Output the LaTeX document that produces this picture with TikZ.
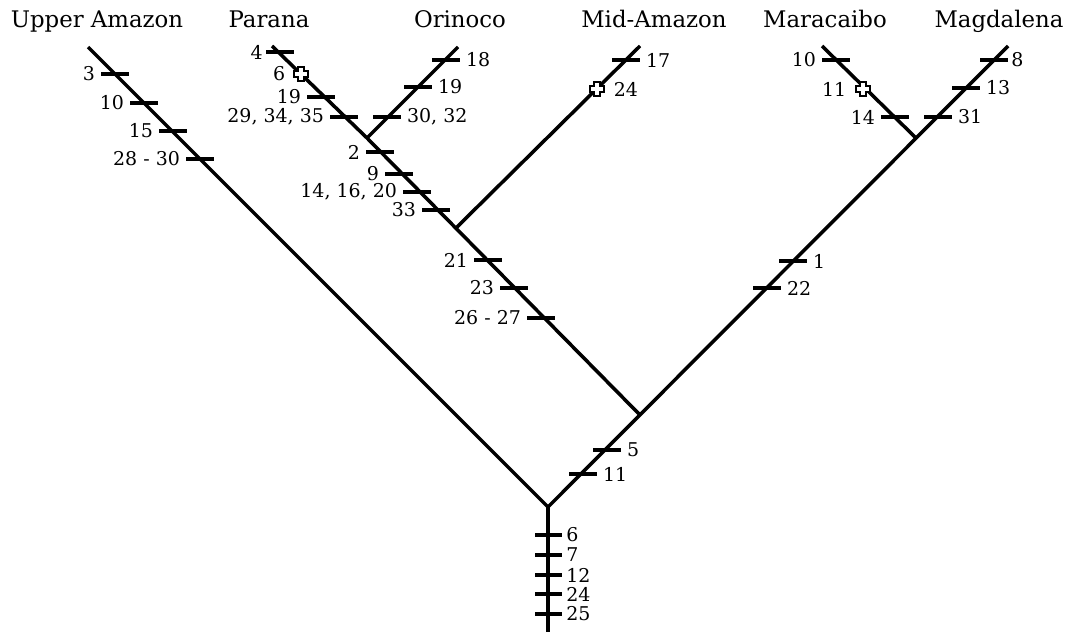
\documentclass[tikz,border=0pt]{standalone}
\usepackage{fontspec}
\setmainfont{DejaVu Serif}

\begin{document}
\begin{tikzpicture}[x=0.02cm, y=-0.02cm,
		branch/.style={line width=2pt},
		trait/.style={line width=1.9pt},
		river/.style={font=\fontsize{13}{15}\selectfont, anchor=base, inner sep=0pt},
		num/.style={font=\fontsize{10.8}{12}\selectfont, inner sep=2.5pt},
		plusmark/.pic={\draw[fill=white, line width=1.3pt] (-2.8,-7) -- (2.8,-7) -- (2.8,-2.8) -- (7,-2.8) -- (7,2.8) -- (2.8,2.8) -- (2.8,7) -- (-2.8,7) -- (-2.8,2.8) -- (-7,2.8) -- (-7,-2.8) -- (-2.8,-2.8) -- cycle;}]

			\useasboundingbox (0,0) rectangle (1071,632);

			% river names
			\node[river] (uaname) at (97,28) {Upper Amazon};
			\node[river] (paname) at (269,28) {Parana};
			\node[river] (orname) at (460,28) {Orinoco};
			\node[river] (maname) at (654,28) {Mid-Amazon};
			\node[river] (mcname) at (825,28) {Maracaibo};
			\node[river] (mgname) at (999,28) {Magdalena};

			% tree
			\coordinate (root) at (548,507);
			\coordinate (base) at (548,632);
			\coordinate (ua) at (88,47);
			\coordinate (mg) at (1008,46);
			\coordinate (n1) at (640,415);
			\coordinate (pa) at (272,46);
			\coordinate (n3) at (367,138);
			\coordinate (or) at (458,47);
			\coordinate (n2) at (456,228);
			\coordinate (ma) at (640,46);
			\coordinate (n4) at (916,138);
			\coordinate (mc) at (822,46);

			\draw[branch] (ua) -- (root) -- (mg);
			\draw[branch] (root) -- (base);
			\draw[branch] (pa) -- (n3) -- (n1);
			\draw[branch] (n3) -- (or);
			\draw[branch] (n2) -- (ma);
			\draw[branch] (mc) -- (n4);

			% Upper Amazon
				\draw[trait] (101,74) node[num, left] (ua3) {3} -- (129,74);
				\draw[trait] (130,103) node[num, left] (ua10) {10} -- (158,103);
				\draw[trait] (159,131) node[num, left] (ua15) {15} -- (187,131);
				\draw[trait] (186,159) node[num, left] (ua28) {28 - 30} -- (214,159);

			% Parana
				\draw[trait] (266,52) node[num, left, inner sep=1pt] (pa4) {4} -- (294,52);
				\path (301,74) pic {plusmark};
				\node[num, left] (pa6) at (290,74) {6};
				\draw[trait] (307,97) node[num, left] (pa19) {19} -- (335,97);
				\draw[trait] (330,117) node[num, left] (pa29) {29, 34, 35} -- (358,117);

			% Orinoco
				\draw[trait] (432,60) -- (460,60) node[num, right] (or18) {18};
				\draw[trait] (404,87) -- (432,87) node[num, right] (or19) {19};
				\draw[trait] (373,117) -- (401,117) node[num, right] (or30) {30, 32};

			% Parana + Orinoco, then with Mid-Amazon
				\draw[trait] (366,152) node[num, left] (po2) {2} -- (394,152);
				\draw[trait] (385,174) node[num, left] (po9) {9} -- (413,174);
				\draw[trait] (403,192) node[num, left] (po14) {14, 16, 20} -- (431,192);
				\draw[trait] (422,210) node[num, left] (po33) {33} -- (450,210);
				\draw[trait] (474,260) node[num, left] (pm21) {21} -- (502,260);
				\draw[trait] (500,288) node[num, left] (pm23) {23} -- (528,288);
				\draw[trait] (527,318) node[num, left] (pm26) {26 - 27} -- (555,318);

			% Mid-Amazon
				\draw[trait] (612,60) -- (640,60) node[num, right] (ma17) {17};
				\path (597,89) pic {plusmark};
				\node[num, right] (ma24) at (609,89) {24};

			% Maracaibo
				\draw[trait] (822,60) node[num, left] (mc10) {10} -- (850,60);
				\path (863,89) pic {plusmark};
				\node[num, left] (mc11) at (851,89) {11};
				\draw[trait] (881,117) node[num, left] (mc14) {14} -- (909,117);

			% Magdalena
				\draw[trait] (980,60) -- (1008,60) node[num, right, inner sep=1pt] (mg8) {8};
				\draw[trait] (952,88) -- (980,88) node[num, right] (mg13) {13};
				\draw[trait] (924,117) -- (952,117) node[num, right] (mg31) {31};

			% Maracaibo + Magdalena
				\draw[trait] (779,261) -- (807,261) node[num, right] (mm1) {1};
				\draw[trait] (753,288) -- (781,288) node[num, right] (mm22) {22};

			% all but Upper Amazon
				\draw[trait] (593,450) -- (621,450) node[num, right] (ab5) {5};
				\draw[trait] (569,474) -- (597,474) node[num, right] (ab11) {11};

			% stem
				\draw[trait] (535,535) -- (562,535) node[num, right, inner sep=1.5pt] (st6) {6};
				\draw[trait] (535,555) -- (562,555) node[num, right, inner sep=1.5pt] (st7) {7};
				\draw[trait] (535,575) -- (562,575) node[num, right, inner sep=1.5pt] (st12) {12};
				\draw[trait] (535,594) -- (562,594) node[num, right, inner sep=1.5pt] (st24) {24};
				\draw[trait] (535,614) -- (562,614) node[num, right, inner sep=1.5pt] (st25) {25};

		\end{tikzpicture}
\end{document}
